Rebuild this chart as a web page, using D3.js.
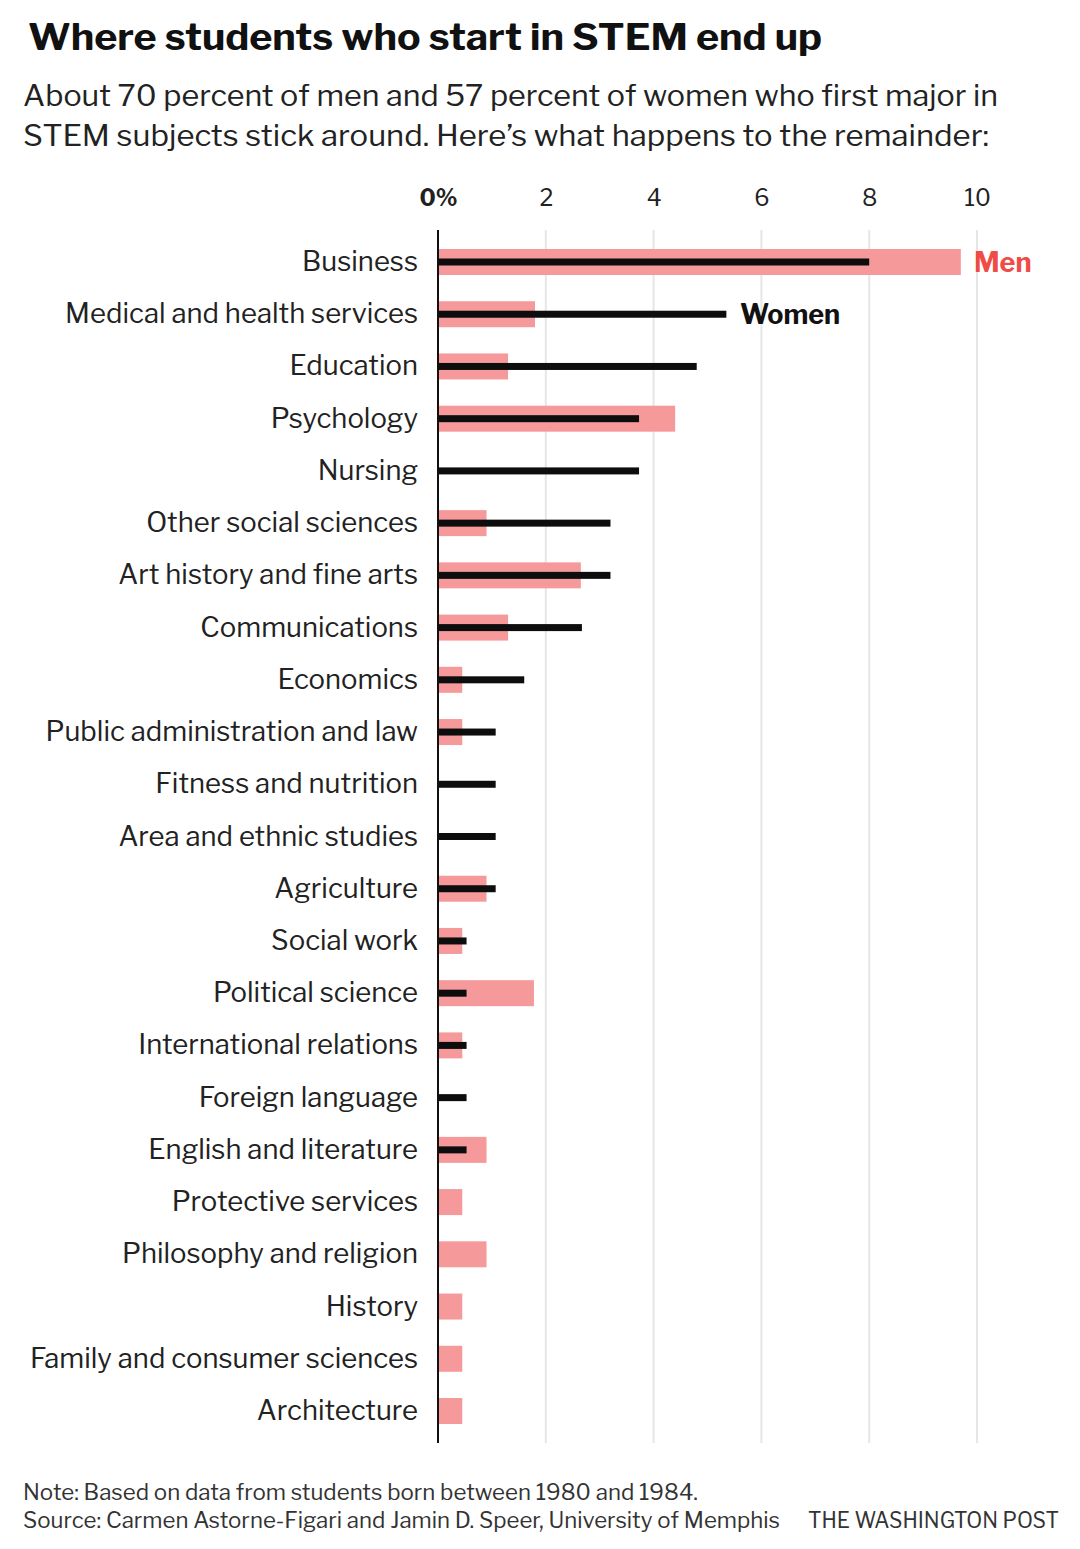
<!DOCTYPE html>
<html><head><meta charset="utf-8">
<script src="https://cdn.jsdelivr.net/npm/d3@7"></script>
<style>
html,body{margin:0;padding:0;background:#fff;}
svg{display:block;}
</style></head>
<body>
<script>
const categories = ["Business","Medical and health services","Education","Psychology","Nursing","Other social sciences","Art history and fine arts","Communications","Economics","Public administration and law","Fitness and nutrition","Area and ethnic studies","Agriculture","Social work","Political science","International relations","Foreign language","English and literature","Protective services","Philosophy and religion","History","Family and consumer sciences","Architecture"];
const men   = [9.7,1.8,1.3,4.4,0,0.9,2.65,1.3,0.45,0.45,0,0,0.9,0.45,1.78,0.45,0,0.9,0.45,0.9,0.45,0.45,0.45];
const women = [8.0,5.35,4.8,3.73,3.73,3.2,3.2,2.67,1.6,1.07,1.07,1.07,1.07,0.53,0.53,0.53,0.53,0.53,0,0,0,0,0];
const tickValues = [0,2,4,6,8,10];
const tickLabels = ["0%","2","4","6","8","10"];

(function(){
const W = 1080, H = 1549;
const svg = d3.select("body").append("svg").attr("width", W).attr("height", H);
const FF = "'Libre Franklin','Roboto','Liberation Sans',sans-serif";

function fitText(sel, target){
  const w = sel.node().getComputedTextLength();
  if (w > 0) sel.attr("textLength", target).attr("lengthAdjust","spacingAndGlyphs");
}

// Title
const title = svg.append("text").attr("x",28).attr("y",50)
  .attr("font-family",FF).attr("font-weight",700).attr("font-size",37).attr("fill","#111")
  .text("Where students who start in STEM end up");
fitText(title, 794);

const sub1 = svg.append("text").attr("x",23).attr("y",106)
  .attr("font-family",FF).attr("font-size",30).attr("fill","#222")
  .text("About 70 percent of men and 57 percent of women who first major in");
fitText(sub1, 975);
const sub2 = svg.append("text").attr("x",23).attr("y",146)
  .attr("font-family",FF).attr("font-size",30).attr("fill","#222")
  .text("STEM subjects stick around. Here\u2019s what happens to the remainder:");
fitText(sub2, 966);

// scales
const x = d3.scaleLinear().domain([0,10]).range([438,977]);
const y = d3.scalePoint().domain(categories).range([262,1411]);
const yTop = 230, yBottom = 1443;

// gridlines
svg.append("g").selectAll("line").data(tickValues.filter(d=>d>0)).join("line")
  .attr("x1",d=>x(d)).attr("x2",d=>x(d)).attr("y1",yTop).attr("y2",yBottom)
  .attr("stroke","#e6e6e6").attr("stroke-width",2);

// tick labels via axis
const axis = d3.axisTop(x).tickValues(tickValues).tickFormat((d,i)=>tickLabels[i]).tickSize(0).tickPadding(0);
const ag = svg.append("g").attr("transform","translate(0,206)").call(axis);
ag.select(".domain").remove();
ag.selectAll("text").attr("font-family",FF).attr("font-size",23).attr("fill","#222")
  .attr("dy",0).attr("font-weight",(d)=>d===0?700:400);

// men bars
svg.append("g").selectAll("rect").data(categories).join("rect")
  .attr("x",x(0)).attr("y",(d)=>y(d)-13)
  .attr("width",(d,i)=>x(men[i])-x(0)).attr("height",26)
  .attr("fill","#f6999b");

// women bars
svg.append("g").selectAll("rect").data(categories).join("rect")
  .attr("x",x(0)).attr("y",(d)=>y(d)-3.5)
  .attr("width",(d,i)=>x(women[i])-x(0)).attr("height",7)
  .attr("fill","#0d0d0d");

// baseline axis
svg.append("line").attr("x1",x(0)).attr("x2",x(0)).attr("y1",yTop).attr("y2",yBottom)
  .attr("stroke","#111").attr("stroke-width",2);

// category labels
const lab = svg.append("g").selectAll("text").data(categories).join("text")
  .attr("x",418).attr("y",d=>y(d)+9).attr("text-anchor","end")
  .attr("font-family",FF).attr("font-size",26).attr("fill","#222")
  .text(d=>d);
const refNode = lab.filter(d=>d==="Medical and health services").node();
const wMed = refNode.getComputedTextLength();
if (wMed > 0) lab.attr("font-size", 26*353/wMed);

// series labels
svg.append("text").attr("x",974).attr("y",y("Business")+10)
  .attr("font-family",FF).attr("font-weight",700).attr("font-size",27).attr("fill","#ef4b47")
  .text("Men");
svg.append("text").attr("x",740).attr("y",y("Medical and health services")+10)
  .attr("font-family",FF).attr("font-weight",700).attr("font-size",27).attr("fill","#111")
  .text("Women");

// footer
const n1 = svg.append("text").attr("x",23).attr("y",1500)
  .attr("font-family",FF).attr("font-size",22).attr("fill","#333")
  .text("Note: Based on data from students born between 1980 and 1984.");
fitText(n1, 675);
const n2 = svg.append("text").attr("x",23).attr("y",1528)
  .attr("font-family",FF).attr("font-size",22).attr("fill","#333")
  .text("Source: Carmen Astorne-Figari and Jamin D. Speer, University of Memphis");
fitText(n2, 757);
const n3 = svg.append("text").attr("x",808).attr("y",1528)
  .attr("font-family",FF).attr("font-size",22).attr("fill","#333")
  .text("THE WASHINGTON POST");
fitText(n3, 251);
})();
</script>
</body></html>
